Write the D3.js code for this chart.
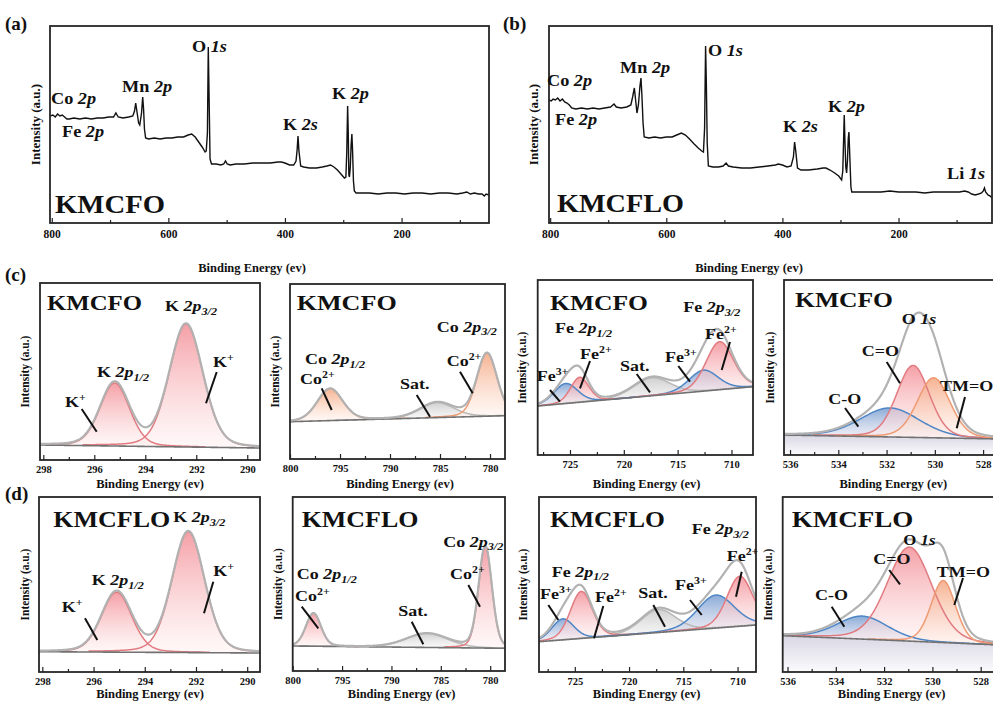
<!DOCTYPE html>
<html>
<head>
<meta charset="utf-8">
<script src="https://cdn.jsdelivr.net/npm/d3@7/dist/d3.min.js"></script>
<style>
  body { margin: 0; background: #fff; }
  svg text { font-family: "Liberation Serif", "Times New Roman", serif; font-weight: bold; fill: #111; }
</style>
</head>
<body>
<svg id="fig" width="993" height="702"></svg>
<script>
// survey spectra: [binding energy (eV), intensity (a.u.)]
var surveyKMCFO = [[803,107],[798,108],[794,106],[790,109],[786,107],[782,108],[778,106],[774,104],[770,104],[762,105],[752,104],[742,105],[732,104],[722,105],[712,105],[702,106],[694,106],[690,110],[686,106],[678,105],[668,106],[661,107],[658,112],[656,120],[654,112],[651,100],[649,98],[646,110],[644,126],[642.5,114],[641,94],[639,85],[634,84],[624,85],[614,84],[604,85],[594,85],[584,86],[574,86],[566,88],[560,89],[554,86],[548,81],[542,76],[537,71],[535,72],[533,90],[531.5,176],[530,122],[528.5,64],[526,59],[518,59],[510,58],[505,59],[502,62],[499,59],[494,58],[484,59],[470,59],[455,60],[440,60],[425,60],[412,61],[406,61],[400,60],[392,58],[385,58],[381,62],[379,74],[377.6,87],[376,72],[373,57],[368,56],[358,55],[346,55],[336,56],[328,57],[322,58],[316,56],[310,53],[304,49],[298,45],[295.5,46],[294,70],[292.5,117],[291.4,90],[290.4,48],[289.4,46],[288,55],[286.5,78],[285.2,89],[284,72],[282.5,42],[281,32],[278,30],[270,30],[255,30],[240,29],[225,30],[210,30],[195,29],[180,30],[165,30],[150,29],[135,30],[120,30],[105,29],[95,30],[88,31],[82,29],[75,30],[68,29],[62,29],[58,27],[55,29],[50,28]];
var surveyKMCFLO = [[802,123],[798,122],[795,124],[791,123],[787,125],[783,122],[779,124],[775,121],[771,120],[767,118],[763,115],[756,114],[746,115],[736,114],[726,115],[716,114],[706,115],[696,116],[690,119],[686,116],[678,115],[668,116],[661,118],[658,126],[655,135],[653,124],[650.5,110],[648,118],[645.5,136],[643.6,145],[642,128],[640,100],[638,86],[630,85],[620,86],[610,85],[600,86],[590,86],[582,88],[574,90],[567,88],[560,84],[552,79],[545,75],[539,72],[536,71],[534,95],[532.3,177],[531,140],[529.5,80],[527.5,57],[520,56],[510,56],[502,57],[497,60],[493,57],[485,56],[470,55],[455,55],[440,56],[425,57],[412,58],[407,59],[400,58],[392,56],[385,57],[381,66],[379,81],[377,72],[374,55],[368,53],[355,53],[340,54],[330,55],[325,55],[318,53],[310,50],[303,47],[298,43],[296,52],[294.5,85],[293.5,108],[292.3,82],[290.8,56],[289.4,50],[288,62],[286.5,85],[285.4,91],[284,68],[282,36],[280.5,31],[272,31],[260,31],[245,31],[230,31],[215,32],[200,31],[185,31],[170,31],[155,30],[140,31],[125,31],[110,31],[95,31],[86,32],[80,31],[74,29],[68,28],[62,29],[57,30],[54,32],[52,35],[50,31],[46,28],[42,27],[39,25]];
var surveyTicks = [800, 600, 400, 200];
var surveyMinor = [700, 500, 300, 100];

// peak fits: position (eV), height (a.u.), FWHM (eV)
var kFitKMCFO = [
  {species: "K+", be: 295.2, h: 63, fwhm: 1.37},
  {species: "K+", be: 292.4, h: 123, fwhm: 1.56}
];
var kFitKMCFLO = [
  {species: "K+", be: 295.1, h: 60, fwhm: 1.4},
  {species: "K+", be: 292.3, h: 121, fwhm: 1.5}
];
var coFitKMCFO = [
  {species: "Co2+", be: 796.0, h: 32, fwhm: 3.0},
  {species: "Sat.", be: 785.3, h: 15, fwhm: 4.0},
  {species: "Co2+", be: 780.3, h: 63, fwhm: 2.4}
];
var coFitKMCFLO = [
  {species: "Co2+", be: 797.9, h: 33, fwhm: 1.8},
  {species: "Sat.", be: 786.4, h: 14, fwhm: 5.0},
  {species: "Co2+", be: 780.5, h: 102, fwhm: 1.6}
];
var feFitKMCFO = [
  {species: "Sat.", be: 717.4, h: 18, fwhm: 4.0},
  {species: "Fe3+", be: 725.4, h: 20, fwhm: 2.6},
  {species: "Fe2+", be: 724.1, h: 25, fwhm: 2.0},
  {species: "Fe3+", be: 712.6, h: 21, fwhm: 3.2},
  {species: "Fe2+", be: 711.1, h: 48, fwhm: 3.0}
];
var feFitKMCFLO = [
  {species: "Sat.", be: 717.3, h: 23, fwhm: 3.8},
  {species: "Fe3+", be: 726.1, h: 21, fwhm: 2.4},
  {species: "Fe2+", be: 724.4, h: 47, fwhm: 2.4},
  {species: "Fe3+", be: 712.0, h: 33, fwhm: 4.0},
  {species: "Fe2+", be: 709.8, h: 50, fwhm: 2.8}
];
var oFitKMCFO = [
  {species: "C-O", be: 531.86, h: 29, fwhm: 2.9},
  {species: "C=O", be: 530.9, h: 72, fwhm: 1.6},
  {species: "TM=O", be: 530.05, h: 60, fwhm: 1.6}
];
var oFitKMCFLO = [
  {species: "C-O", be: 532.9, h: 23, fwhm: 2.5},
  {species: "C=O", be: 530.95, h: 94, fwhm: 2.2},
  {species: "TM=O", be: 529.55, h: 62, fwhm: 1.2}
];

// linear backgrounds: level at left and right end of each window
var kBgKMCFO = [15, 12], kBgKMCFLO = [20.3, 19];
var coBgKMCFO = [37.3, 43.3], coBgKMCFLO = [25, 22.7];
var feBgKMCFO = [49, 68.3], feBgKMCFLO = [30.3, 47];
var oBgKMCFO = [20, 16], oBgKMCFLO = [36.3, 27];

var kTicks = [298, 296, 294, 292, 290], kMinor = [297, 295, 293, 291];
var coTicks = [800, 795, 790, 785, 780], coMinor = [797.5, 792.5, 787.5, 782.5];
var feTicks = [725, 720, 715, 710], feMinor = [727.5, 722.5, 717.5, 712.5];
var oTicks = [536, 534, 532, 530, 528], oMinor = [535, 533, 531, 529];

var ETA = 0.2; // lorentzian share of the pseudo-voigt line shape
function pv(e, p) {
  var d = (e - p.be) / p.fwhm;
  return p.h * ((1 - ETA) * Math.exp(-4 * Math.LN2 * d * d) + ETA / (1 + 4 * d * d));
}

var palette = {
  red:    {stroke: "#e27b80", top: "#f3959c", bottom: "#fff1f1"},
  blue:   {stroke: "#4f86c6", top: "#7ca1d3", bottom: "#e4e2ef"},
  gray:   {stroke: "#b9b9b9", top: "#cbcbcb", bottom: "#f5f5f5"},
  orange: {stroke: "#ee9a72", top: "#f5aa86", bottom: "#fff2ec"}
};
var speciesColor = {"K+": "red", "Fe2+": "red", "Fe3+": "blue", "Sat.": "gray", "C=O": "red", "C-O": "blue", "TM=O": "orange"};

var svg = d3.select("#fig");
var defs = svg.append("defs");
Object.keys(palette).forEach(function (k) {
  var lg = defs.append("linearGradient").attr("id", "g-" + k)
    .attr("x1", 0).attr("y1", 0).attr("x2", 0).attr("y2", 1);
  lg.append("stop").attr("offset", "0%").attr("stop-color", palette[k].top).attr("stop-opacity", 0.9);
  lg.append("stop").attr("offset", "100%").attr("stop-color", palette[k].bottom).attr("stop-opacity", 0.5);
});
var under = defs.append("linearGradient").attr("id", "g-under").attr("x1", 0).attr("y1", 0).attr("x2", 0).attr("y2", 1);
under.append("stop").attr("offset", "0%").attr("stop-color", "#d9d7e4");
under.append("stop").attr("offset", "100%").attr("stop-color", "#fbfbfd");

// text with italic / sub / sup pieces, stretched a bit sideways like the figure
function rich(sel, x, y, parts, size, sx) {
  var g = sel.append("g").attr("transform", "translate(" + x + "," + y + ") scale(" + sx + ",1)");
  var t = g.append("text").style("font-size", size + "px");
  var shift = 0;
  parts.forEach(function (p) {
    var kind = p[1] || "n", fs = size, target = 0, it = kind == "i";
    if (kind == "sub") { fs = size * 0.68; target = size * 0.25; it = true; }
    if (kind == "sup") { fs = size * 0.66; target = -size * 0.4; }
    var ts = t.append("tspan").text(p[0]).style("font-size", fs + "px").attr("dy", target - shift);
    if (it) ts.style("font-style", "italic");
    shift = target;
  });
  return g;
}
function lead(sel, a) {
  sel.append("line").attr("x1", a[0]).attr("y1", a[1]).attr("x2", a[2]).attr("y2", a[3])
    .attr("stroke", "#111").attr("stroke-width", 2);
}
function bigLabel(sel, x, y, txt, size, len) {
  sel.append("text").attr("x", x).attr("y", y).attr("textLength", len)
    .attr("lengthAdjust", "spacingAndGlyphs").style("font-size", size + "px").text(txt);
}
function yLabel(sel, x, y, size) {
  sel.append("text").attr("transform", "translate(" + x + "," + y + ") rotate(-90)")
    .attr("text-anchor", "middle").attr("dy", "0.35em").style("font-size", size + "px").text("Intensity (a.u.)");
}
function xAxis(g, x, B, ticks, minor, fs, pad) {
  var a = g.append("g").attr("transform", "translate(0," + B + ")")
    .call(d3.axisBottom(x).tickValues(ticks).tickSize(-5).tickPadding(pad).tickFormat(d3.format("d")));
  a.select(".domain").remove();
  a.selectAll("line").attr("stroke", "#222").attr("stroke-width", 1.2);
  a.selectAll("text").style("font-size", fs + "px").attr("fill", "#222");
  var m = g.append("g").attr("transform", "translate(0," + B + ")")
    .call(d3.axisBottom(x).tickValues(minor).tickSize(-3).tickFormat(""));
  m.select(".domain").remove();
  m.selectAll("line").attr("stroke", "#222").attr("stroke-width", 1.2);
}

function drawSurvey(cfg) {
  var L = cfg.xr[0], R = cfg.xr[1], T = cfg.yr[0], B = cfg.yr[1];
  var x = d3.scaleLinear().domain(cfg.dom).range(cfg.xr);
  var y = d3.scaleLinear().domain([0, B - T]).range([B, T]);
  var g = svg.append("g");
  svg.append("clipPath").attr("id", "clip-" + cfg.id).append("rect")
    .attr("x", L).attr("y", T).attr("width", R - L).attr("height", B - T);
  g.append("path").datum(cfg.data).attr("clip-path", "url(#clip-" + cfg.id + ")")
    .attr("d", d3.line().x(function (d) { return x(d[0]); }).y(function (d) { return y(d[1]); }))
    .attr("fill", "none").attr("stroke", "#111").attr("stroke-width", 1.4);
  g.append("rect").attr("x", L).attr("y", T).attr("width", R - L).attr("height", B - T)
    .attr("fill", "none").attr("stroke", "#262626").attr("stroke-width", 1.8);
  xAxis(g, x, B, surveyTicks, surveyMinor, 11.5, 6.5);
  g.append("text").attr("x", cfg.xlab).attr("y", 272).attr("text-anchor", "middle")
    .style("font-size", "12.5px").text("Binding Energy (ev)");
  yLabel(g, cfg.ylab, (T + B) / 2, 13);
  bigLabel(g, L + cfg.sampleAt[0], T + cfg.sampleAt[1], cfg.sample, 25, cfg.sampleAt[2]);
  cfg.notes.forEach(function (n) { rich(g, L + n.at[0], T + n.at[1], n.t, 16, 1.14); });
  g.append("text").attr("x", cfg.tag[0]).attr("y", cfg.tag[1]).style("font-size", "19px").text(cfg.tagText);
}

function drawFit(cfg) {
  var L = cfg.xr[0], R = cfg.xr[1], T = cfg.yr[0], B = cfg.yr[1];
  var x = d3.scaleLinear().domain(cfg.dom).range(cfg.xr);
  var y = d3.scaleLinear().domain([0, B - T]).range([B, T]);
  var bgAt = function (e) { return cfg.bg[0] + (cfg.bg[1] - cfg.bg[0]) * (e - cfg.dom[0]) / (cfg.dom[1] - cfg.dom[0]); };
  var grid = d3.range(0, 501).map(function (i) { return cfg.dom[0] + (cfg.dom[1] - cfg.dom[0]) * i / 500; });
  var env = function (e) { return bgAt(e) + d3.sum(cfg.fit, function (p) { return pv(e, p); }); };
  var colorOf = function (s) { return s == "Co2+" ? cfg.cobalt : speciesColor[s]; };

  svg.append("clipPath").attr("id", "clip-" + cfg.id).append("rect")
    .attr("x", L).attr("y", T).attr("width", R - L).attr("height", B - T);
  var g = svg.append("g");
  var plot = g.append("g").attr("clip-path", "url(#clip-" + cfg.id + ")");
  if (cfg.under) {
    plot.append("path").datum(grid)
      .attr("d", d3.area().x(function (e) { return x(e); }).y0(B).y1(function (e) { return y(bgAt(e)); }))
      .attr("fill", "url(#g-under)");
  }
  var parts = cfg.fit.map(function (p) {
    return {p: p, pts: grid.filter(function (e) { return Math.abs(e - p.be) <= 2.6 * p.fwhm; })};
  });
  parts.forEach(function (c) {
    plot.append("path").datum(c.pts)
      .attr("d", d3.area().x(function (e) { return x(e); })
        .y0(function (e) { return y(bgAt(e)); })
        .y1(function (e) { return y(bgAt(e) + pv(e, c.p)); }))
      .attr("fill", "url(#g-" + colorOf(c.p.species) + ")");
  });
  parts.forEach(function (c) {
    plot.append("path").datum(c.pts)
      .attr("d", d3.line().x(function (e) { return x(e); }).y(function (e) { return y(bgAt(e) + pv(e, c.p)); }))
      .attr("fill", "none").attr("stroke", palette[colorOf(c.p.species)].stroke).attr("stroke-width", 1.5);
  });
  plot.append("path").datum(grid)
    .attr("d", d3.line().x(function (e) { return x(e); }).y(function (e) { return y(bgAt(e)); }))
    .attr("fill", "none").attr("stroke", "#727272").attr("stroke-width", 1.6);
  plot.append("path").datum(grid)
    .attr("d", d3.line().x(function (e) { return x(e); }).y(function (e) { return y(env(e)); }))
    .attr("fill", "none").attr("stroke", "#b2b2b2").attr("stroke-width", 2.2);

  g.append("rect").attr("x", L).attr("y", T).attr("width", R - L).attr("height", B - T)
    .attr("fill", "none").attr("stroke", "#262626").attr("stroke-width", 1.8);
  xAxis(g, x, B, cfg.ticks, cfg.minor, 10.5, 6);
  g.append("text").attr("x", cfg.xlab).attr("y", cfg.xlabY).attr("text-anchor", "middle")
    .style("font-size", "12.5px").text("Binding Energy (ev)");
  yLabel(g, cfg.ylab, (T + B) / 2, 11.5);
  bigLabel(g, L + cfg.sampleAt[0], T + cfg.sampleAt[1], cfg.sample, cfg.sampleSize, cfg.sampleAt[2]);
  cfg.notes.forEach(function (n) {
    rich(g, L + n.at[0], T + n.at[1], n.t, n.size || 15, 1.2);
    if (n.line) lead(g, [L + n.line[0], T + n.line[1], L + n.line[2], T + n.line[3]]);
  });
}

var K32 = [["K "], ["2p", "i"], ["3/2", "sub"]], K12 = [["K "], ["2p", "i"], ["1/2", "sub"]], Kp = [["K"], ["+", "sup"]];
var Co32 = [["Co "], ["2p", "i"], ["3/2", "sub"]], Co12 = [["Co "], ["2p", "i"], ["1/2", "sub"]], Co2 = [["Co"], ["2+", "sup"]];
var Fe32 = [["Fe "], ["2p", "i"], ["3/2", "sub"]], Fe12 = [["Fe "], ["2p", "i"], ["1/2", "sub"]];
var Fe2 = [["Fe"], ["2+", "sup"]], Fe3 = [["Fe"], ["3+", "sup"]], Sat = [["Sat."]];
var O1s = [["O "], ["1s", "i"]];

drawSurvey({id: "a", data: surveyKMCFO, dom: [803, 50], xr: [50, 489], yr: [26, 223], xlab: 252, ylab: 35,
  sample: "KMCFO", sampleAt: [5, 187, 110], tag: [5, 30], tagText: "(a)",
  notes: [
    {t: [["Co "], ["2p", "i"]], at: [1, 78]}, {t: [["Fe "], ["2p", "i"]], at: [12, 111]},
    {t: [["Mn "], ["2p", "i"]], at: [72, 66]}, {t: O1s, at: [142, 26]},
    {t: [["K "], ["2s", "i"]], at: [233, 104]}, {t: [["K "], ["2p", "i"]], at: [282, 73]}
  ]});
drawSurvey({id: "b", data: surveyKMCFLO, dom: [802, 39], xr: [549, 992], yr: [26, 223], xlab: 749, ylab: 533,
  sample: "KMCFLO", sampleAt: [8, 186, 127], tag: [503, 30], tagText: "(b)",
  notes: [
    {t: [["Co "], ["2p", "i"]], at: [-2, 60]}, {t: [["Fe "], ["2p", "i"]], at: [6, 99]},
    {t: [["Mn "], ["2p", "i"]], at: [71, 47]}, {t: O1s, at: [159, 30]},
    {t: [["K "], ["2s", "i"]], at: [234, 106]}, {t: [["K "], ["2p", "i"]], at: [279, 86]},
    {t: [["Li "], ["1s", "i"]], at: [398, 153]}
  ]});

svg.append("text").attr("x", 5).attr("y", 281).style("font-size", "19px").text("(c)");
svg.append("text").attr("x", 5).attr("y", 500).style("font-size", "19px").text("(d)");

var fitPanels = [
  {id: "c1", fit: kFitKMCFO, bg: kBgKMCFO, dom: [298.13, 289.5], xr: [40, 260], yr: [283, 460], ticks: kTicks, minor: kMinor,
   xlab: 150, xlabY: 488, ylab: 25, sample: "KMCFO", sampleSize: 21, sampleAt: [7, 27, 95],
   notes: [{t: K32, at: [125, 28]}, {t: K12, at: [57, 94]},
           {t: Kp, at: [25, 124], line: [41.7, 126, 56.7, 148.7]}, {t: Kp, at: [173, 84], line: [176.7, 89, 166, 120.3]}]},
  {id: "c2", fit: coFitKMCFO, bg: coBgKMCFO, cobalt: "orange", dom: [800, 778.5], xr: [290, 505], yr: [284, 459], ticks: coTicks, minor: coMinor,
   xlab: 400, xlabY: 488, ylab: 275, sample: "KMCFO", sampleSize: 21, sampleAt: [6.7, 26, 100],
   notes: [{t: Co32, at: [146.7, 47.7]}, {t: Co12, at: [15, 80.3]},
           {t: Co2, at: [10, 100.3], line: [31.7, 104.3, 41.7, 126]},
           {t: Sat, at: [110, 105.3], line: [126.7, 111, 140, 132.7]},
           {t: Co2, at: [156.7, 82], line: [170, 87.7, 182.7, 109.3]}]},
  {id: "c3", fit: feFitKMCFO, bg: feBgKMCFO, dom: [728, 708], xr: [537.7, 753], yr: [280, 455], ticks: feTicks, minor: feMinor,
   xlab: 646.7, xlabY: 488, ylab: 521.7, sample: "KMCFO", sampleSize: 21, sampleAt: [12.3, 30, 98],
   notes: [{t: Fe32, at: [145.6, 32.3]}, {t: Fe2, at: [167.3, 59], line: [192.3, 62, 184, 90]},
           {t: Fe12, at: [17.3, 53.3]}, {t: Fe2, at: [42.3, 79], line: [52.3, 81, 42.3, 108.3]},
           {t: Sat, at: [82.3, 91], line: [99, 94, 112.3, 112.3]},
           {t: Fe3, at: [127.3, 81.7], line: [140.6, 86, 152.3, 101.7]},
           {t: Fe3, at: [-1, 101], line: [12.3, 110, 22.3, 121.7]}]},
  {id: "c4", fit: oFitKMCFO, bg: oBgKMCFO, under: true, dom: [536.25, 527.3], xr: [784, 1000], yr: [280, 455], ticks: oTicks, minor: oMinor,
   xlab: 893.3, xlabY: 488, ylab: 770, sample: "KMCFO", sampleSize: 21, sampleAt: [11, 26.7, 98],
   notes: [{t: O1s, at: [117.7, 44.3]}, {t: [["C=O"]], at: [77.7, 76], line: [102.7, 82, 116, 103.3]},
           {t: [["TM=O"]], at: [156, 111], line: [181, 117, 172.7, 148.3]},
           {t: [["C-O"]], at: [44.3, 124.3], line: [61, 128, 74.3, 146.7]}]},
  {id: "d1", fit: kFitKMCFLO, bg: kBgKMCFLO, dom: [298.13, 289.5], xr: [39, 260], yr: [497, 672], ticks: kTicks, minor: kMinor,
   xlab: 150, xlabY: 698, ylab: 25, sample: "KMCFLO", sampleSize: 23, sampleAt: [14.3, 29.7, 117],
   notes: [{t: K32, at: [134.3, 25.3]}, {t: K12, at: [52.7, 88]},
           {t: Kp, at: [22.7, 114.7], line: [46, 121.3, 58.3, 143]}, {t: Kp, at: [174.3, 78.7], line: [174.3, 84.7, 165, 116.3]}]},
  {id: "d2", fit: coFitKMCFLO, bg: coBgKMCFLO, cobalt: "red", dom: [800, 778.5], xr: [292.7, 505], yr: [497, 671], ticks: coTicks, minor: coMinor,
   xlab: 401.7, xlabY: 698, ylab: 278, sample: "KMCFLO", sampleSize: 23, sampleAt: [9, 29.7, 116.7],
   notes: [{t: Co32, at: [150.6, 49.7]}, {t: Co12, at: [4, 82.3]},
           {t: Co2, at: [2.3, 104], line: [9, 109.7, 25.6, 131.3]},
           {t: Sat, at: [105.6, 118.7], line: [119, 124.7, 130.6, 147.3]},
           {t: Co2, at: [157.3, 82], line: [175.6, 88, 187.3, 109.7]}]},
  {id: "d3", fit: feFitKMCFLO, bg: feBgKMCFLO, dom: [728.3, 708.3], xr: [539, 756], yr: [497, 672], ticks: feTicks, minor: feMinor,
   xlab: 646.7, xlabY: 698, ylab: 523, sample: "KMCFLO", sampleSize: 23, sampleAt: [11, 29.7, 115],
   notes: [{t: Fe32, at: [152.7, 37.3]}, {t: Fe2, at: [187.7, 64], line: [202.7, 74.7, 197, 99.7]},
           {t: Fe12, at: [12.7, 79.7]}, {t: Fe3, at: [1, 102.3], line: [9.3, 108, 19.3, 123]},
           {t: Fe2, at: [56, 104.7], line: [64.3, 109, 55, 141.3]},
           {t: Sat, at: [99.3, 101.3], line: [114.3, 108, 126, 129.7]},
           {t: Fe3, at: [136, 93.3], line: [151, 103, 162.7, 118]}]},
  {id: "d4", fit: oFitKMCFLO, bg: oBgKMCFLO, under: true, dom: [536.2, 527.2], xr: [782.7, 1000], yr: [497, 672], ticks: oTicks, minor: oMinor,
   xlab: 891.7, xlabY: 698, ylab: 768, sample: "KMCFLO", sampleSize: 23, sampleAt: [9, 29.7, 121.7],
   notes: [{t: O1s, at: [120.6, 48], size: 14}, {t: [["C=O"]], at: [90.6, 67.3], line: [106.5, 73, 117.3, 87.3]},
           {t: [["TM=O"]], at: [154, 79.7], line: [180.3, 81, 171.6, 108]},
           {t: [["C-O"]], at: [32.3, 103], line: [49, 109.7, 61.6, 129.7]}]}
];
fitPanels.forEach(drawFit);
</script>
</body>
</html>
